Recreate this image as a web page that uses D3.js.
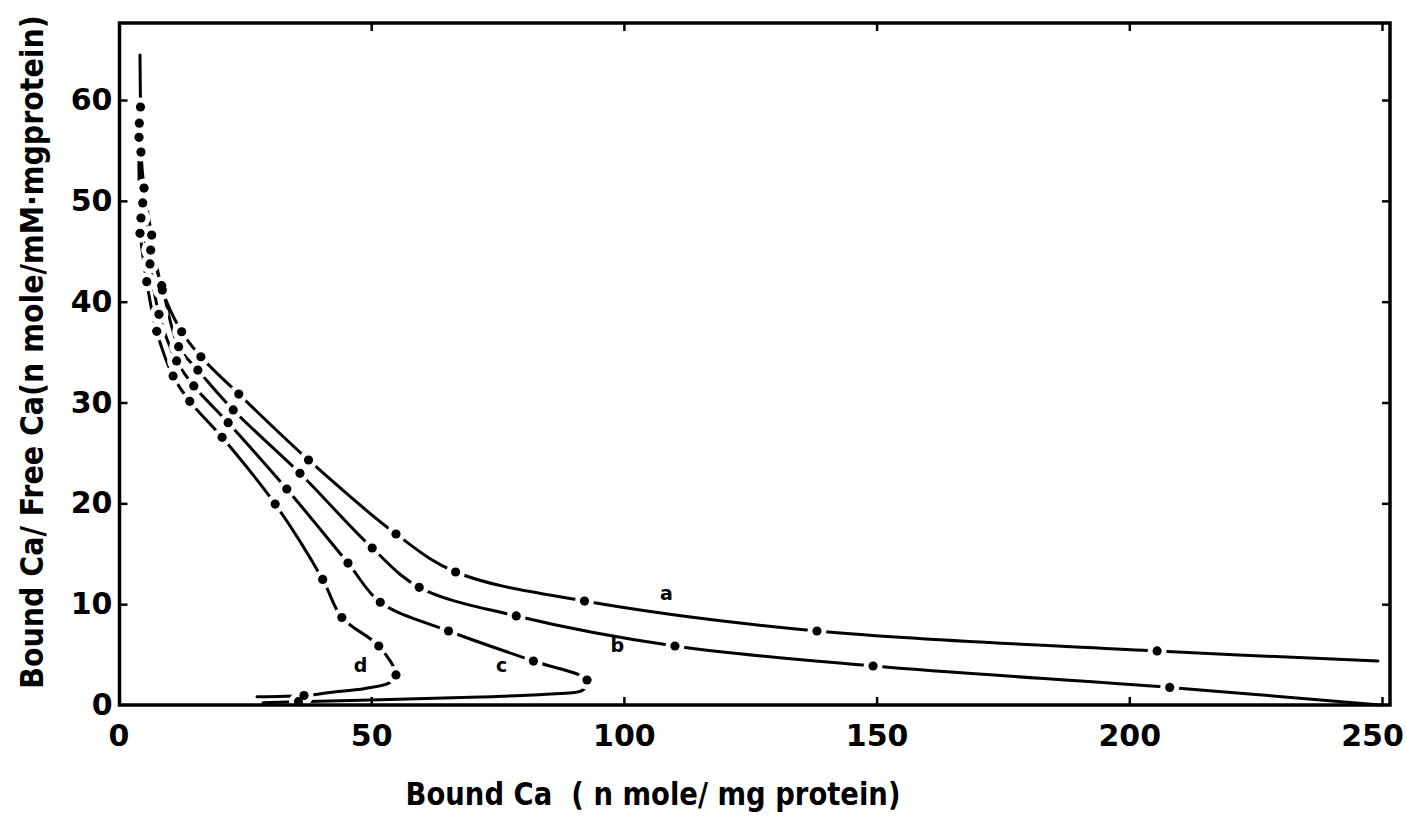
<!DOCTYPE html>
<html><head><meta charset="utf-8">
<script src="https://cdn.jsdelivr.net/npm/d3@7"></script>
<style>body{margin:0;background:#fff;} svg{display:block;background:#fff}</style>
</head><body>
<svg id="chart" width="1407" height="821"></svg>
<script>
// ---- data ----
const xTicks = [0, 50, 100, 150, 200, 250];
const yTicks = [0, 10, 20, 30, 40, 50, 60];
const seriesNames = ["a", "b", "c", "d"];

// curve a
const aX = [4.25, 4.35, 4.45, 5.05, 6.57, 8.67, 12.5, 16.3, 23.8, 37.6, 54.9, 66.7, 92.2, 138.2, 205.5, 249.2];
const aY = [64.47, 59.31, 54.84, 51.27, 46.61, 41.15, 37.02, 34.54, 30.84, 24.30, 16.96, 13.19, 10.31, 7.34, 5.36, 4.36];
const aMeasured = [0, 1, 1, 1, 1, 1, 1, 1, 1, 1, 1, 1, 1, 1, 1, 0];
// curve b
const bX = [4.12, 4.79, 6.37, 8.55, 11.9, 15.7, 22.7, 35.9, 50.2, 59.5, 78.7, 110.1, 149.3, 208.0, 249.6];
const bY = [57.70, 49.79, 45.12, 41.59, 35.54, 33.22, 29.26, 22.98, 15.57, 11.67, 8.83, 5.85, 3.87, 1.74, 0.0];
const bMeasured = [1, 1, 1, 1, 1, 1, 1, 1, 1, 1, 1, 1, 1, 1, 0];
// curve c
const cX = [4.06, 4.45, 6.23, 8.01, 11.5, 14.9, 21.7, 33.3, 45.4, 51.8, 65.3, 82.1, 92.7, 91.9, 85.4, 71.5, 51.7, 35.6, 28.6];
const cY = [56.30, 48.30, 43.74, 38.75, 34.12, 31.64, 28.0, 21.42, 14.08, 10.19, 7.34, 4.36, 2.48, 1.49, 1.09, 0.79, 0.52, 0.33, 0.23];
const cMeasured = [1, 1, 1, 1, 1, 1, 1, 1, 1, 1, 1, 1, 1, 0, 0, 0, 0, 1, 0];
// curve d
const dX = [4.25, 5.58, 7.56, 10.8, 14.1, 20.5, 31.0, 40.4, 44.2, 51.5, 54.9, 53.7, 48.8, 41.8, 36.7, 27.4];
const dY = [46.78, 41.98, 37.06, 32.63, 30.12, 26.55, 19.93, 12.45, 8.68, 5.85, 2.98, 2.23, 1.64, 1.24, 0.94, 0.82];
const dMeasured = [1, 1, 1, 1, 1, 1, 1, 1, 1, 1, 1, 0, 0, 0, 1, 0];

// curve labels (position in data units)
const labelX = [108.4, 98.7, 75.8, 47.9];
const labelY = [11.1, 5.95, 3.97, 3.97];

const xTitle = "Bound Ca  ( n mole/ mg protein)";
const yTitle = "Bound Ca/ Free Ca(n mole/mM\u00B7mgprotein)";

// ---- chart ----
const svg = d3.select("#chart");
const L = 119.5, R = 1390, T = 23, B = 705;
const x = d3.scaleLinear().domain([0, 251.6]).range([118.5, 118.5 + 251.6 * 5.054]);
const y = d3.scaleLinear().domain([0, 67.64]).range([705, 705 - 67.64 * 10.083]);

const series = [
  {name: seriesNames[0], xs: aX, ys: aY, m: aMeasured},
  {name: seriesNames[1], xs: bX, ys: bY, m: bMeasured},
  {name: seriesNames[2], xs: cX, ys: cY, m: cMeasured},
  {name: seriesNames[3], xs: dX, ys: dY, m: dMeasured}
];

const FONT = "'DejaVu Sans', sans-serif";

// curves
const line = d3.line().x(d => x(d[0])).y(d => y(d[1])).curve(d3.curveCatmullRom.alpha(0.5));
const curveG = svg.append("g");
series.forEach(s => {
  const pts = s.xs.map((v, i) => [v, s.ys[i]]);
  curveG.append("path").datum(pts).attr("d", line)
    .attr("fill", "none").attr("stroke", "#000").attr("stroke-width", 3)
    .attr("stroke-linecap", "round");
});
// halos (gaps in line around each measured point)
const haloG = svg.append("g");
series.forEach(s => {
  const pts = s.xs.map((v, i) => [v, s.ys[i], s.m[i]]).filter(p => p[2] === 1);
  haloG.selectAll(null).data(pts).enter().append("circle")
    .attr("cx", d => x(d[0])).attr("cy", d => y(d[1])).attr("r", 9.5).attr("fill", "#fff");
});

// frame
svg.append("rect").attr("x", L).attr("y", T).attr("width", R - L).attr("height", B - T)
  .attr("fill", "none").attr("stroke", "#000").attr("stroke-width", 3.5);

function styleAxis(g) {
  g.select(".domain").remove();
  g.selectAll(".tick line").attr("stroke", "#000").attr("stroke-width", 2.5);
  g.selectAll(".tick text").attr("fill", "#000").style("font-family", FONT)
    .style("font-weight", "bold").style("font-size", "30px");
}

svg.append("g").attr("transform", `translate(${L},0)`)
  .call(d3.axisLeft(y).tickValues(yTicks).tickSize(-8).tickPadding(7).tickFormat(d3.format("d")))
  .call(styleAxis)
  .call(g => g.selectAll(".tick").filter(d => d === 0).select("line").remove());

svg.append("g").attr("transform", `translate(0,${B})`)
  .call(d3.axisBottom(x).tickValues(xTicks).tickSize(-8).tickPadding(20).tickFormat(d3.format("d")))
  .call(styleAxis)
  .call(g => g.selectAll(".tick").filter(d => d === 0).select("line").remove())
  .call(g => g.selectAll(".tick").filter(d => d === 250).select("text").attr("dx", -10));

svg.append("g").attr("transform", `translate(0,${T})`)
  .call(d3.axisTop(x).tickValues(xTicks.filter(d => d > 0)).tickSize(-8).tickFormat(""))
  .call(styleAxis);

svg.append("g").attr("transform", `translate(${R},0)`)
  .call(d3.axisRight(y).tickValues(yTicks.filter(d => d > 0)).tickSize(-8).tickFormat(""))
  .call(styleAxis);

// dots
const dotG = svg.append("g");
series.forEach(s => {
  const pts = s.xs.map((v, i) => [v, s.ys[i], s.m[i]]).filter(p => p[2] === 1);
  dotG.selectAll(null).data(pts).enter().append("circle")
    .attr("cx", d => x(d[0])).attr("cy", d => y(d[1])).attr("r", 4.6).attr("fill", "#000");
});

// curve labels
svg.append("g").selectAll("text").data(seriesNames).enter().append("text")
  .attr("x", (d, i) => x(labelX[i])).attr("y", (d, i) => y(labelY[i]))
  .attr("text-anchor", "middle").attr("dominant-baseline", "central")
  .style("font-family", FONT).style("font-weight", "bold").style("font-size", "19px")
  .text(d => d);

// axis titles (horizontally condensed to the reference's span via a scale transform)
function fitTitle(txt, cx, cy, rot, span) {
  const g = svg.append("g");
  const t = g.append("text").attr("text-anchor", "middle")
    .style("white-space", "pre").style("font-family", FONT).style("font-weight", "bold")
    .style("font-size", "32px").text(txt);
  const len = t.node().getComputedTextLength();
  const k = span / len;
  g.attr("transform", `translate(${cx},${cy}) rotate(${rot}) scale(${k},1)`);
}
fitTitle(xTitle, 653, 805, 0, 495);
fitTitle(yTitle, 43, 352, -90, 674);
</script>
</body></html>
